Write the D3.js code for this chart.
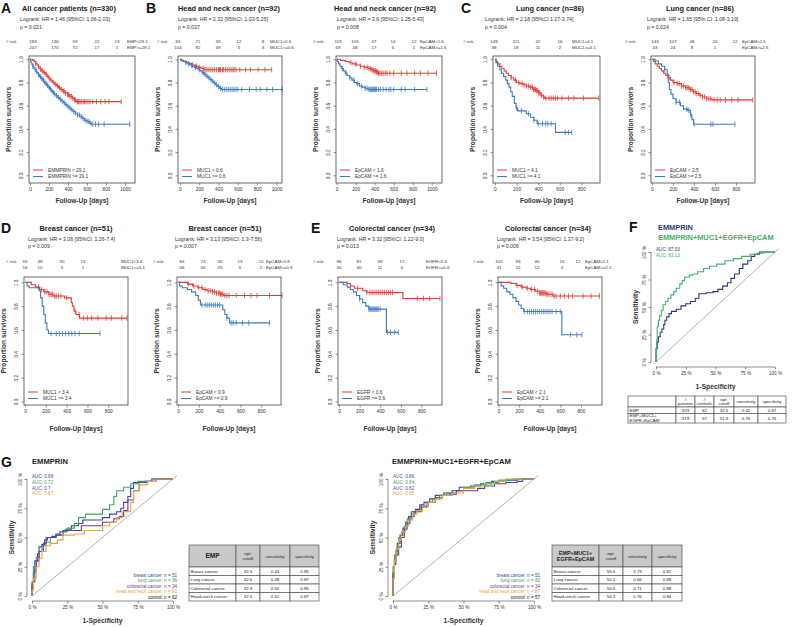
<!DOCTYPE html>
<html><head><meta charset="utf-8">
<script src="https://cdn.jsdelivr.net/npm/d3@7"></script>
<style>body{margin:0;background:#fff}svg{display:block}text{font-family:"Liberation Sans",Arial,Helvetica,sans-serif}</style>
</head><body><svg id="c" width="800" height="627"></svg>
<script>
// ---------------- DATA ----------------
const ticks1000 = [0,200,400,600,800,1000];
const ticks800 = [0,200,400,600,800];
const survTicks = [0,0.2,0.4,0.6,0.8,1.0];
const pctTicks = [0,0.25,0.5,0.75,1];
const pctLabels = ["0 %","25 %","50 %","75 %","100 %"];

// A: all cancer patients, EMMPRIN
const kmA_low = [[0,1],[30,0.99],[45,0.98],[60,0.965],[75,0.95],[90,0.935],[105,0.915],[120,0.9],[140,0.885],[160,0.87],[180,0.85],[200,0.83],[220,0.815],[240,0.8],[260,0.785],[280,0.77],[300,0.755],[320,0.74],[345,0.725],[370,0.71],[395,0.695],[420,0.68],[445,0.665],[465,0.65],[485,0.635],[960,0.635]];
const kmA_lowCens = [60,90,110,130,150,170,190,210,230,250,270,290,310,330,350,360,375,395,405,420,435,450,470,480,500,510,525,540,560,575,590,610,630,660,700,745,790,830,960];
const kmA_high = [[0,1],[5,0.985],[12,0.97],[20,0.955],[30,0.94],[40,0.925],[52,0.91],[64,0.895],[76,0.88],[88,0.865],[100,0.85],[115,0.835],[130,0.82],[145,0.805],[160,0.79],[175,0.775],[190,0.76],[205,0.745],[220,0.73],[238,0.715],[256,0.70],[274,0.685],[292,0.67],[310,0.655],[330,0.64],[350,0.625],[370,0.61],[390,0.595],[410,0.58],[430,0.565],[452,0.55],[475,0.535],[500,0.52],[525,0.505],[550,0.49],[575,0.475],[600,0.465],[625,0.45],[645,0.44],[1050,0.44]];
const kmA_highCens = [30,55,70,90,110,125,140,155,170,185,200,215,230,245,260,280,300,320,340,360,380,400,420,440,460,480,500,520,540,560,580,600,620,640,660,690,720,780,1050];
const riskA = [[183,136,59,22,13],[247,170,72,17,1]];
const riskTagsA = ["EMP<29.1","EMP>=29.1"];
const legendA = ["EMMPRIN < 29.1","EMMPRIN >= 29.1"];

// B1: head and neck, MUC1
const kmB1_low = [[0,1],[15,0.99],[40,0.98],[70,0.97],[100,0.96],[130,0.95],[160,0.94],[190,0.93],[220,0.92],[250,0.91],[950,0.91]];
const kmB1_lowCens = [130,170,200,240,260,280,300,320,340,360,380,400,410,420,440,450,470,490,510,530,550,560,580,620,680,730,810,880,950];
const kmB1_high = [[0,1],[10,0.99],[30,0.98],[55,0.97],[80,0.96],[105,0.95],[130,0.94],[150,0.93],[170,0.92],[190,0.91],[210,0.9],[230,0.885],[250,0.87],[270,0.855],[290,0.84],[310,0.825],[330,0.81],[350,0.795],[370,0.78],[390,0.765],[410,0.75],[430,0.74],[1060,0.74]];
const kmB1_highCens = [60,90,120,160,200,240,260,280,300,320,340,360,380,400,420,440,460,480,500,520,540,560,580,600,640,720,790,830,900,960,1060];
const riskB1 = [[84,71,33,12,8],[104,82,39,5,3]];
const riskTagsB1 = ["MUC1<0.6","MUC1>=0.6"];
const legendB1 = ["MUC1 < 0.6","MUC1 >= 0.6"];

// B2: head and neck, EpCAM
const kmB2_low = [[0,1],[40,0.99],[90,0.98],[130,0.97],[170,0.96],[210,0.95],[250,0.94],[290,0.93],[330,0.92],[360,0.91],[390,0.9],[420,0.89],[440,0.88],[1050,0.88]];
const kmB2_lowCens = [150,200,250,290,320,340,355,370,380,390,400,410,420,430,440,455,470,490,510,530,560,600,680,740,820,880,960,1050];
const kmB2_high = [[0,1],[8,0.98],[20,0.96],[35,0.94],[50,0.92],[70,0.9],[90,0.88],[110,0.86],[135,0.84],[160,0.82],[185,0.8],[210,0.79],[240,0.77],[270,0.76],[300,0.75],[330,0.74],[950,0.74]];
const kmB2_highCens = [60,100,140,180,220,260,300,320,340,350,360,370,380,390,400,410,420,440,460,490,520,550,570,600,680,720,820,950];
const riskB2 = [[119,105,47,14,12],[69,48,17,6,1]];
const riskTagsB2 = ["EpCAM<1.6","EpCAM>=1.6"];
const legendB2 = ["EpCAM < 1.6","EpCAM >= 1.6"];

// C1: lung, MUC1
const kmC1_low = [[0,1],[10,0.98],[25,0.96],[45,0.94],[65,0.92],[85,0.9],[105,0.88],[125,0.86],[150,0.84],[175,0.82],[200,0.8],[230,0.79],[260,0.78],[290,0.77],[320,0.76],[350,0.74],[380,0.73],[405,0.71],[425,0.69],[445,0.675],[460,0.665],[960,0.665]];
const kmC1_lowCens = [150,190,220,250,270,290,310,330,345,355,365,375,385,395,405,415,430,450,470,500,520,540,560,580,620,680,730,820,960];
const kmC1_high = [[0,1],[10,0.97],[25,0.94],[45,0.91],[60,0.88],[80,0.85],[100,0.82],[115,0.79],[130,0.76],[145,0.72],[160,0.68],[180,0.62],[195,0.58],[210,0.555],[290,0.53],[330,0.5],[360,0.475],[390,0.445],[560,0.37],[710,0.37]];
const kmC1_highCens = [200,245,310,360,400,440,470,490,520,650,680,710];
const riskC1 = [[149,111,42,16],[38,18,11,2]];
const riskTagsC1 = ["MUC1<4.1","MUC1>=4.1"];
const legendC1 = ["MUC1 < 4.1","MUC1 >= 4.1"];

// C2: lung, EpCAM
const kmC2_low = [[0,1],[15,0.98],[30,0.96],[50,0.94],[70,0.92],[90,0.9],[110,0.88],[130,0.86],[150,0.84],[175,0.82],[200,0.8],[240,0.79],[280,0.77],[320,0.755],[360,0.74],[390,0.72],[420,0.705],[450,0.69],[480,0.675],[520,0.66],[570,0.65],[960,0.65]];
const kmC2_lowCens = [170,210,240,260,280,300,320,335,350,365,380,395,410,420,440,460,480,500,520,540,560,590,620,650,700,760,820,960];
const kmC2_high = [[0,1],[30,0.985],[60,0.96],[90,0.94],[120,0.91],[145,0.87],[155,0.8],[165,0.74],[180,0.7],[200,0.66],[230,0.63],[270,0.6],[300,0.57],[340,0.56],[365,0.52],[380,0.48],[395,0.44],[790,0.44]];
const kmC2_highCens = [120,230,260,330,350,370,400,560,580,790];
const riskC2 = [[143,107,48,20,12],[43,24,8,1]];
const riskTagsC2 = ["EpCAM<2.5","EpCAM>=2.5"];
const legendC2 = ["EpCAM < 2.5","EpCAM >= 2.5"];

// D1: breast, MUC1
const kmD1_low = [[0,1],[60,0.98],[100,0.96],[140,0.94],[180,0.92],[230,0.9],[270,0.885],[380,0.87],[445,0.83],[455,0.8],[470,0.76],[490,0.73],[525,0.70],[980,0.70]];
const kmD1_lowCens = [130,160,190,210,230,250,265,285,300,320,345,400,480,520,560,600,640,700,780,830,930,980];
const kmD1_high = [[0,1],[20,0.97],[40,0.955],[135,0.93],[150,0.87],[165,0.8],[180,0.73],[195,0.66],[210,0.6],[225,0.57],[720,0.57]];
const kmD1_highCens = [250,300,330,360,390,420,450,480,520,720];
const riskD1 = [[55,48,30,15],[16,10,5,1]];
const riskTagsD1 = ["MUC1<3.4","MUC1>=3.4"];
const legendD1 = ["MUC1 < 3.4","MUC1 >= 3.4"];

// D2: breast, EpCAM
const kmD2_low = [[0,1],[90,0.985],[140,0.97],[190,0.955],[240,0.94],[280,0.93],[330,0.92],[370,0.91],[410,0.9],[440,0.89],[1000,0.89]];
const kmD2_lowCens = [100,150,200,230,260,290,310,330,350,370,390,400,410,420,430,450,470,490,560,640,700,760,880,1000];
const kmD2_high = [[0,1],[15,0.97],[40,0.955],[90,0.94],[130,0.92],[170,0.89],[195,0.85],[215,0.81],[430,0.77],[450,0.73],[470,0.7],[495,0.66],[880,0.66]];
const kmD2_highCens = [230,260,280,300,320,340,360,380,400,470,510,530,560,620,680,880];
const riskD2 = [[84,74,35,13,10],[66,56,25,6,2]];
const riskTagsD2 = ["EpCAM<0.9","EpCAM>=0.9"];
const legendD2 = ["EpCAM < 0.9","EpCAM >= 0.9"];

// E1: colorectal, EGFR
const kmE1_low = [[0,1],[80,0.99],[110,0.97],[150,0.95],[230,0.93],[270,0.915],[620,0.865],[980,0.865]];
const kmE1_lowCens = [180,270,300,320,340,360,380,400,420,440,460,480,500,520,760,820,880,980];
const kmE1_high = [[0,1],[40,0.98],[80,0.96],[110,0.94],[140,0.92],[170,0.89],[200,0.86],[230,0.83],[260,0.8],[290,0.775],[460,0.58],[575,0.58]];
const kmE1_highCens = [200,290,300,310,320,330,340,350,360,370,380,400,470,500,540,575];
const riskE1 = [[96,81,39,17],[40,30,11,6]];
const riskTagsE1 = ["EGFR<0.6","EGFR>=0.6"];
const legendE1 = ["EGFR < 0.6","EGFR >= 0.6"];

// E2: colorectal, EpCAM
const kmE2_low = [[0,1],[120,0.99],[170,0.975],[220,0.96],[270,0.95],[310,0.94],[360,0.925],[400,0.91],[470,0.9],[530,0.885],[980,0.885]];
const kmE2_lowCens = [180,230,280,320,350,380,400,410,420,430,440,450,460,470,480,500,520,540,560,600,640,680,720,820,900,980];
const kmE2_high = [[0,1],[25,0.97],[50,0.95],[80,0.92],[110,0.9],[140,0.87],[170,0.84],[195,0.81],[220,0.78],[245,0.755],[615,0.56],[810,0.56]];
const kmE2_highCens = [250,280,300,320,340,360,380,400,420,440,460,480,500,520,560,600,700,760,810];
const riskE2 = [[102,93,40,16,12],[31,22,12,4]];
const riskTagsE2 = ["EpCAM<2.1","EpCAM>=2.1"];
const legendE2 = ["EpCAM < 2.1","EpCAM >= 2.1"];

// F: ROC EMMPRIN vs combination
const rocF_emp = [[0,0],[0,0.12],[0.01,0.18],[0.02,0.23],[0.035,0.27],[0.05,0.3],[0.065,0.34],[0.075,0.38],[0.09,0.41],[0.11,0.44],[0.13,0.46],[0.17,0.48],[0.21,0.51],[0.25,0.53],[0.29,0.55],[0.33,0.58],[0.36,0.62],[0.42,0.63],[0.48,0.64],[0.52,0.66],[0.56,0.69],[0.6,0.72],[0.63,0.76],[0.66,0.8],[0.7,0.85],[0.73,0.89],[0.77,0.92],[0.8,0.96],[0.83,0.98],[0.87,1],[1,1]];
const rocF_comb = [[0,0],[0,0.06],[0.005,0.2],[0.01,0.32],[0.02,0.38],[0.03,0.42],[0.045,0.47],[0.06,0.52],[0.08,0.55],[0.1,0.58],[0.125,0.61],[0.15,0.64],[0.17,0.67],[0.2,0.71],[0.22,0.74],[0.24,0.77],[0.28,0.79],[0.31,0.8],[0.35,0.82],[0.4,0.85],[0.45,0.87],[0.51,0.89],[0.58,0.92],[0.65,0.94],[0.72,0.96],[0.79,0.98],[0.85,0.99],[0.9,1],[1,1]];
const aucF = ["AUC: 67.03","AUC: 83.13"];
const tableFHeader = ["","#\npatients","#\ncontrols","opt.\ncutoff","sensitivity","specificity"];
const tableFRows = [["EMP","329","62","32.5","0.42","0.87"],["EMP+MUC1+\nEGFR+EpCAM","319","57","51.9","0.76","0.75"]];

// G: ROC per cancer type
const rocG1_breast = [[0,0],[0,0.08],[0.01,0.2],[0.02,0.3],[0.04,0.36],[0.05,0.42],[0.07,0.44],[0.09,0.48],[0.11,0.5],[0.14,0.51],[0.17,0.53],[0.2,0.55],[0.24,0.57],[0.28,0.6],[0.33,0.62],[0.36,0.65],[0.45,0.65],[0.5,0.67],[0.55,0.7],[0.6,0.72],[0.63,0.75],[0.65,0.8],[0.68,0.85],[0.7,0.92],[0.72,0.97],[0.8,0.98],[0.85,1],[1,1]];
const rocG1_lung = [[0,0],[0,0.1],[0.01,0.25],[0.03,0.33],[0.05,0.38],[0.07,0.43],[0.1,0.46],[0.13,0.5],[0.17,0.52],[0.2,0.55],[0.25,0.58],[0.3,0.62],[0.33,0.67],[0.38,0.7],[0.45,0.7],[0.5,0.74],[0.55,0.78],[0.58,0.85],[0.6,0.9],[0.65,0.93],[0.7,0.96],[0.75,0.98],[0.85,1],[1,1]];
const rocG1_colo = [[0,0],[0,0.12],[0.02,0.22],[0.03,0.3],[0.05,0.38],[0.08,0.45],[0.1,0.5],[0.13,0.5],[0.17,0.52],[0.22,0.56],[0.3,0.56],[0.35,0.6],[0.45,0.6],[0.5,0.63],[0.58,0.66],[0.62,0.68],[0.65,0.73],[0.68,0.82],[0.72,0.9],[0.76,0.97],[0.82,0.98],[0.88,1],[1,1]];
const rocG1_hn = [[0,0],[0,0.05],[0.01,0.15],[0.03,0.25],[0.05,0.32],[0.07,0.38],[0.1,0.43],[0.13,0.45],[0.18,0.48],[0.22,0.52],[0.3,0.53],[0.37,0.56],[0.47,0.56],[0.5,0.6],[0.55,0.63],[0.6,0.67],[0.64,0.72],[0.7,0.8],[0.72,0.9],[0.76,0.95],[0.82,0.98],[0.88,1],[1,1]];
const aucG1 = ["AUC: 0.68","AUC: 0.72","AUC: 0.7","AUC: 0.67"];
const legendG1 = ["breast cancer: n = 51","lung cancer: n = 86","colorectal cancer: n = 34","head and neck cancer: n = 92","control: n = 62"];
const tableG1Header = ["EMP","opt.\ncutoff","sensitivity","specificity"];
const tableG1Rows = [["Breast cancer","32.5","0.43","0.85"],["Lung cancer","32.6","0.48","0.87"],["Colorectal cancer","32.9","0.50","0.85"],["Head+neck cancer","32.5","0.41","0.87"]];

const rocG2_breast = [[0,0],[0,0.2],[0.01,0.3],[0.02,0.38],[0.03,0.45],[0.05,0.52],[0.07,0.58],[0.09,0.63],[0.11,0.68],[0.13,0.72],[0.16,0.74],[0.19,0.78],[0.22,0.8],[0.26,0.83],[0.3,0.86],[0.36,0.88],[0.42,0.9],[0.47,0.93],[0.55,0.94],[0.62,0.96],[0.7,0.98],[0.8,0.99],[0.88,1],[1,1]];
const rocG2_lung = [[0,0],[0,0.25],[0.01,0.35],[0.03,0.42],[0.04,0.5],[0.06,0.55],[0.08,0.6],[0.1,0.66],[0.13,0.7],[0.16,0.73],[0.2,0.76],[0.24,0.8],[0.28,0.83],[0.33,0.86],[0.38,0.88],[0.45,0.9],[0.5,0.93],[0.58,0.95],[0.66,0.97],[0.75,0.99],[0.85,1],[1,1]];
const rocG2_colo = [[0,0],[0,0.18],[0.01,0.27],[0.02,0.35],[0.04,0.42],[0.06,0.5],[0.08,0.57],[0.1,0.62],[0.12,0.68],[0.15,0.72],[0.2,0.77],[0.25,0.8],[0.3,0.84],[0.35,0.86],[0.4,0.87],[0.45,0.9],[0.52,0.9],[0.6,0.92],[0.65,0.94],[0.72,0.96],[0.8,0.97],[0.88,0.98],[0.92,1],[1,1]];
const rocG2_hn = [[0,0],[0,0.15],[0.01,0.3],[0.02,0.4],[0.04,0.48],[0.06,0.55],[0.09,0.6],[0.11,0.65],[0.14,0.7],[0.17,0.73],[0.21,0.77],[0.25,0.8],[0.3,0.83],[0.35,0.86],[0.42,0.88],[0.5,0.92],[0.58,0.94],[0.65,0.96],[0.72,0.98],[0.8,1],[1,1]];
const aucG2 = ["AUC: 0.86","AUC: 0.84","AUC: 0.82","AUC: 0.85"];
const legendG2 = ["breast cancer: n = 51","lung cancer: n = 82","colorectal cancer: n = 34","head and neck cancer: n = 87","control: n = 57"];
const tableG2Header = ["EMP+MUC1+\nEGFR+EpCAM","opt.\ncutoff","sensitivity","specificity"];
const tableG2Rows = [["Breast cancer","55.0","0.73","0.82"],["Lung cancer","52.2","0.66","0.88"],["Colorectal cancer","56.6","0.71","0.88"],["Head+neck cancer","54.3","0.76","0.84"]];

// ---------------- DRAWING ----------------
const svg = d3.select('#c');
const RED = '#e63b33', BLUE = '#3a7abf';
const C_BREAST = '#2f4a9c', C_LUNG = '#3aa468', C_COLO = '#6a3b98', C_HN = '#e5a53a';
const FF = '"Liberation Sans",Arial,sans-serif';

function txt(g, x, y, s, o = {}) {
  const t = g.append('text').attr('x', x).attr('y', y).text(s)
    .attr('font-size', o.size || 5).attr('fill', o.fill || '#222')
    .attr('font-weight', o.bold ? 'bold' : 'normal')
    .attr('text-anchor', o.anchor || 'start');
  if (o.rot) t.attr('transform', `rotate(-90,${x},${y})`);
  return t;
}
function survAt(steps, t) { let s = 1; for (const d of steps) { if (d[0] <= t) s = d[1]; else break; } return s; }

function kmPanel(p) {
  const g = svg.append('g');
  const [bx0, by0, bx1, by1] = p.box;
  const x = d3.scaleLinear().domain([p.x0day, p.x1day]).range([bx0, bx1]);
  const y = d3.scaleLinear().domain([p.ylo, p.yhi]).range([by1, by0]);
  const line = d3.line().x(d => x(d[0])).y(d => y(d[1])).curve(d3.curveStepAfter);
  p.curves.forEach(c => {
    g.append('path').datum(c.steps).attr('d', line).attr('fill', 'none')
      .attr('stroke', c.color).attr('stroke-width', 1.1);
    g.selectAll(null).data(c.cens).enter().append('line')
      .attr('x1', d => x(d)).attr('x2', d => x(d))
      .attr('y1', d => y(survAt(c.steps, d)) - 2.7).attr('y2', d => y(survAt(c.steps, d)) + 2.7)
      .attr('stroke', c.color).attr('stroke-width', 0.8);
  });
  g.append('rect').attr('x', bx0).attr('y', by0).attr('width', bx1 - bx0).attr('height', by1 - by0)
    .attr('fill', 'none').attr('stroke', '#444').attr('stroke-width', 0.8);
  const xa = g.append('g').attr('transform', `translate(0,${by1})`)
    .call(d3.axisBottom(x).tickValues(p.ticks).tickSize(2.5).tickPadding(2).tickFormat(d3.format('d')));
  xa.select('.domain').remove();
  xa.selectAll('line').attr('stroke', '#444').attr('stroke-width', 0.6);
  xa.selectAll('text').attr('font-size', 4.8).attr('fill', '#333').attr('font-family', FF);
  const ya = g.append('g').attr('transform', `translate(${bx0},0)`)
    .call(d3.axisLeft(y).tickValues(survTicks).tickSize(2.5).tickFormat(d3.format('.1f')));
  ya.select('.domain').remove();
  ya.selectAll('line').attr('stroke', '#444').attr('stroke-width', 0.6);
  ya.selectAll('text').attr('font-size', 4.8).attr('fill', '#333').attr('font-family', FF)
    .attr('x', 0).attr('y', 0).attr('dy', 0).attr('text-anchor', 'middle')
    .attr('transform', 'translate(-6,0) rotate(-90)');
  txt(g, (bx0 + bx1) / 2, p.xlabY, 'Follow-Up [days]', { size: 6.6, bold: true, anchor: 'middle', fill: '#333' });
  txt(g, bx0 - 18, (by0 + by1) / 2, 'Proportion survivors', { size: 6.6, bold: true, anchor: 'middle', rot: true, fill: '#333' });
  p.curves.forEach((c, i) => {
    const ly = by1 - 13 + i * 6.5;
    g.append('line').attr('x1', bx0 + 4).attr('x2', bx0 + 14).attr('y1', ly).attr('y2', ly).attr('stroke', c.color).attr('stroke-width', 1);
    txt(g, bx0 + 19, ly + 1.7, p.legend[i], { size: 4.8, fill: '#333' });
  });
  if (p.letter) txt(g, p.letterX, p.letterY, p.letter, { size: 14, bold: true, fill: '#111' });
  txt(g, p.titleX, p.titleY, p.title, { size: 7.4, bold: true, anchor: p.titleAnchor || 'middle', fill: '#222' });
  txt(g, p.lrX, p.lrY, p.lr1, { size: 5.2, fill: '#333' });
  txt(g, p.lrX, p.lrY + 7.5, p.lr2, { size: 5.2, fill: '#333' });
  txt(g, p.riskLabelX, p.riskY, '# risk', { size: 4.4, fill: '#333' });
  p.risk.forEach((row, r) => {
    row.forEach((v, i) => txt(g, p.riskXs[i], p.riskY + r * 6.5, String(v), { size: 4.4, anchor: 'middle', fill: '#333' }));
    txt(g, p.tagX, p.riskY + r * 6.5, p.tags[r], { size: 4.4, fill: '#333' });
  });
}

function mk(steps, cens, color) { return { steps, cens, color }; }

const R1 = { ylo: -0.066, yhi: 1.028, titleY: 11, lrY: 21, riskY: 42.5, xlabY: 202.5 };
const R2 = { ylo: -0.03, yhi: 1.045, titleY: 231, lrY: 240.5, riskY: 262.5, xlabY: 430.5 };

kmPanel(Object.assign({}, R1, { box: [29, 56, 135, 183], x0day: -10.5, x1day: 1105, ticks: ticks1000,
  curves: [mk(kmA_low, kmA_lowCens, RED), mk(kmA_high, kmA_highCens, BLUE)], legend: legendA,
  letter: 'A', letterX: 1, letterY: 13, title: 'All cancer patients  (n=330)', titleX: 22, titleAnchor: 'start',
  lrX: 20, lr1: 'Logrank: HR = 1.46 [95%CI: 1.06-2.03]', lr2: 'p = 0.021',
  riskLabelX: 6, riskXs: [33, 55, 75, 97, 117], tagX: 127, risk: riskA, tags: riskTagsA }));

kmPanel(Object.assign({}, R1, { box: [178, 56, 282, 183], x0day: -20, x1day: 1057, ticks: ticks1000,
  curves: [mk(kmB1_low, kmB1_lowCens, RED), mk(kmB1_high, kmB1_highCens, BLUE)], legend: legendB1,
  letter: 'B', letterX: 146, letterY: 13, title: 'Head and neck cancer  (n=92)', titleX: 229,
  lrX: 178, lr1: 'Logrank: HR = 2.32 [95%CI: 1.03-5.25]', lr2: 'p = 0.037',
  riskLabelX: 157, riskXs: [178, 198, 218, 239, 263], tagX: 270, risk: riskB1, tags: riskTagsB1 }));

kmPanel(Object.assign({}, R1, { box: [336, 56, 442, 183], x0day: -7, x1day: 1108, ticks: ticks1000,
  curves: [mk(kmB2_low, kmB2_lowCens, RED), mk(kmB2_high, kmB2_highCens, BLUE)], legend: legendB2,
  title: 'Head and neck cancer (n=92)', titleX: 385,
  lrX: 337, lr1: 'Logrank: HR = 2.6 [95%CI: 1.25-5.43]', lr2: 'p = 0.008',
  riskLabelX: 313, riskXs: [338, 355, 374, 393, 414], tagX: 420, risk: riskB2, tags: riskTagsB2 }));

kmPanel(Object.assign({}, R1, { box: [493, 56, 600, 183], x0day: -18, x1day: 972, ticks: ticks800,
  curves: [mk(kmC1_low, kmC1_lowCens, RED), mk(kmC1_high, kmC1_highCens, BLUE)], legend: legendC1,
  letter: 'C', letterX: 461, letterY: 13, title: 'Lung cancer (n=86)', titleX: 550,
  lrX: 485, lr1: 'Logrank: HR = 2.18 [95%CI:1.27-3.74]', lr2: 'p = 0.004',
  riskLabelX: 463, riskXs: [494, 516, 538, 560], tagX: 572, risk: riskC1, tags: riskTagsC1 }));

kmPanel(Object.assign({}, R1, { box: [651, 56, 755, 183], x0day: -10, x1day: 981, ticks: ticks800,
  curves: [mk(kmC2_low, kmC2_lowCens, RED), mk(kmC2_high, kmC2_highCens, BLUE)], legend: legendC2,
  title: 'Lung cancer  (n=86)', titleX: 700,
  lrX: 647, lr1: 'Logrank: HR = 1.65 [95% CI: 1.08-3.19]', lr2: 'p = 0.024',
  riskLabelX: 625, riskXs: [655, 673, 692, 715, 735], tagX: 742, risk: riskC2, tags: riskTagsC2 }));

kmPanel(Object.assign({}, R2, { box: [24, 277, 128, 405], x0day: -10, x1day: 990, ticks: ticks800,
  curves: [mk(kmD1_low, kmD1_lowCens, RED), mk(kmD1_high, kmD1_highCens, BLUE)], legend: legendD1,
  letter: 'D', letterX: 1, letterY: 233, title: 'Breast cancer  (n=51)', titleX: 76,
  lrX: 28, lr1: 'Logrank: HR = 3.06 [95%CI: 1.26-7.4]', lr2: 'p = 0.009',
  riskLabelX: 6, riskXs: [25, 40, 62, 83], tagX: 121, risk: riskD1, tags: riskTagsD1 }));

kmPanel(Object.assign({}, R2, { box: [177, 277, 281, 405], x0day: -10, x1day: 990, ticks: ticks800,
  curves: [mk(kmD2_low, kmD2_lowCens, RED), mk(kmD2_high, kmD2_highCens, BLUE)], legend: legendD2,
  title: 'Breast cancer (n=51)', titleX: 225,
  lrX: 175, lr1: 'Logrank: HR = 3.13 [95%CI: 1.3-7.56]', lr2: 'p = 0.007',
  riskLabelX: 153, riskXs: [182, 203, 220, 240, 261], tagX: 266, risk: riskD2, tags: riskTagsD2 }));

kmPanel(Object.assign({}, R2, { box: [338, 277, 442, 405], x0day: -10, x1day: 1000, ticks: ticks800,
  curves: [mk(kmE1_low, kmE1_lowCens, RED), mk(kmE1_high, kmE1_highCens, BLUE)], legend: legendE1,
  letter: 'E', letterX: 311, letterY: 233, title: 'Colorectal cancer  (n=34)', titleX: 392,
  lrX: 337, lr1: 'Logrank: HR = 3.32 [95%CI: 1.22-9.0]', lr2: 'p = 0.013',
  riskLabelX: 313, riskXs: [339, 359, 380, 402], tagX: 426, risk: riskE1, tags: riskTagsE1 }));

kmPanel(Object.assign({}, R2, { box: [498, 277, 602, 405], x0day: -5, x1day: 1005, ticks: ticks800,
  curves: [mk(kmE2_low, kmE2_lowCens, RED), mk(kmE2_high, kmE2_highCens, BLUE)], legend: legendE2,
  title: 'Colorectal cancer (n=34)', titleX: 548,
  lrX: 497, lr1: 'Logrank: HR = 3.54 [95%CI: 1.37-9.2]', lr2: 'p = 0.006',
  riskLabelX: 473, riskXs: [499, 518, 537, 562, 578], tagX: 585, risk: riskE2, tags: riskTagsE2 }));

// ---------- ROC panels ----------
function rocPanel(p) {
  const g = svg.append('g');
  const x = d3.scaleLinear().domain([0, 1]).range([p.x0, p.x1]);
  const y = d3.scaleLinear().domain([0, 1]).range([p.y0, p.y1]);
  g.append('line').attr('x1', x(0)).attr('y1', y(0)).attr('x2', x(1.03)).attr('y2', y(1.03))
    .attr('stroke', '#aaa').attr('stroke-width', 0.9);
  const line = d3.line().x(d => x(d[0])).y(d => y(d[1])).curve(d3.curveStepAfter);
  p.curves.forEach(c => g.append('path').datum(c.data).attr('d', line).attr('fill', 'none')
    .attr('stroke', c.color).attr('stroke-width', p.lw || 1.1));
  const xa = g.append('g').attr('transform', `translate(0,${p.y0 + p.off})`)
    .call(d3.axisBottom(x).tickValues(pctTicks).tickSize(2.5).tickPadding(2).tickFormat((d, i) => pctLabels[i]));
  xa.select('.domain').attr('stroke', '#444').attr('stroke-width', 0.6).attr('d', `M${x(0)},0H${x(1)}`);
  xa.selectAll('line').attr('stroke', '#444').attr('stroke-width', 0.6);
  xa.selectAll('text').attr('font-size', 4.6).attr('fill', '#333').attr('font-family', FF);
  const ya = g.append('g').attr('transform', `translate(${p.x0 - p.off},0)`)
    .call(d3.axisLeft(y).tickValues(pctTicks).tickSize(2.5).tickFormat((d, i) => pctLabels[i]));
  ya.select('.domain').attr('stroke', '#444').attr('stroke-width', 0.6).attr('d', `M0,${y(0)}V${y(1)}`);
  ya.selectAll('line').attr('stroke', '#444').attr('stroke-width', 0.6);
  ya.selectAll('text').attr('font-size', 4.6).attr('fill', '#333').attr('font-family', FF)
    .attr('x', 0).attr('y', 0).attr('dy', 0).attr('text-anchor', 'middle')
    .attr('transform', 'translate(-5,0) rotate(-90)');
  txt(g, (p.x0 + p.x1) / 2, p.y0 + p.off + 22, '1-Specificity', { size: 6.8, bold: true, anchor: 'middle', fill: '#333' });
  txt(g, p.x0 - p.off - 13, (p.y0 + p.y1) / 2, 'Sensitivity', { size: 6.8, bold: true, anchor: 'middle', rot: true, fill: '#333' });
  p.auc.forEach((a, i) => txt(g, p.x0, p.y1 - 1 + i * 5.8, a, { size: 4.6, fill: p.curves[i].color }));
  return g;
}

const gF = rocPanel({ x0: 656, x1: 775, y0: 362, y1: 252, off: 5, lw: 1.1,
  curves: [{ data: rocF_emp, color: '#27397a' }, { data: rocF_comb, color: '#45b06c' }], auc: aucF });
txt(gF, 629, 232, 'F', { size: 14, bold: true, fill: '#111' });
txt(gF, 658, 230, 'EMMPRIN', { size: 7.4, bold: true, fill: '#27397a' });
txt(gF, 658, 239.5, 'EMMPRIN+MUC1+EGFR+EpCAM', { size: 7.4, bold: true, fill: '#45b06c' });

const gG1 = rocPanel({ x0: 32, x1: 173, y0: 596, y1: 479, off: 5,
  curves: [{ data: rocG1_breast, color: C_BREAST }, { data: rocG1_lung, color: C_LUNG }, { data: rocG1_colo, color: C_COLO }, { data: rocG1_hn, color: C_HN }], auc: aucG1 });
txt(gG1, 1, 467, 'G', { size: 14, bold: true, fill: '#111' });
txt(gG1, 32, 464, 'EMMPRIN', { size: 7.6, bold: true, fill: '#222' });
const gG2 = rocPanel({ x0: 393, x1: 534, y0: 596, y1: 479, off: 5,
  curves: [{ data: rocG2_breast, color: C_BREAST }, { data: rocG2_lung, color: C_LUNG }, { data: rocG2_colo, color: C_COLO }, { data: rocG2_hn, color: C_HN }], auc: aucG2 });
txt(gG2, 392, 464, 'EMMPRIN+MUC1+EGFR+EpCAM', { size: 7.6, bold: true, fill: '#222' });

const legCols = [C_BREAST, C_LUNG, C_COLO, C_HN, '#111'];
function rocLegend(g, xr, names) {
  names.forEach((n, i) => txt(g, xr, 576.5 + i * 5.5, n, { size: 4.6, anchor: 'end', fill: legCols[i] }));
}
rocLegend(gG1, 177, legendG1);
rocLegend(gG2, 540, legendG2);

function drawTable(cols, rows, header, body, o) {
  const g = svg.append('g');
  const nR = rows.length - 1;
  for (let r = 0; r < nR; r++) {
    for (let c = 0; c < cols.length - 1; c++) {
      const x0 = cols[c], x1 = cols[c + 1], y0 = rows[r], y1 = rows[r + 1];
      g.append('rect').attr('x', x0).attr('y', y0).attr('width', x1 - x0).attr('height', y1 - y0)
        .attr('fill', (r === 0 && o.grayHeader) ? '#c9c9c9' : '#fff').attr('stroke', '#555').attr('stroke-width', 0.7);
      const s = r === 0 ? header[c] : body[r - 1][c];
      if (!s) continue;
      const lines = s.split('\n');
      const isHeadFirst = r === 0 && c === 0;
      const size = isHeadFirst ? o.headFirstSize : (r === 0 ? o.headSize : o.bodySize);
      const lh = size * 1.05;
      const left = c === 0 && r > 0;
      const cx = left ? x0 + 1.5 : (x0 + x1) / 2;
      const cy = (y0 + y1) / 2 - (lines.length - 1) * lh / 2 + size * 0.35;
      lines.forEach((l, k) => txt(g, cx, cy + k * lh, l, { size, bold: isHeadFirst, anchor: left ? 'start' : 'middle', fill: '#222' }));
    }
  }
}
drawTable([628, 676, 695, 714, 734, 758, 786], [396, 407, 413.5, 423], tableFHeader, tableFRows,
  { grayHeader: false, headSize: 4.4, bodySize: 4.4, headFirstSize: 4.4 });
drawTable([189, 236, 260, 290, 319], [545, 567, 575.5, 584, 592.5, 601], tableG1Header, tableG1Rows,
  { grayHeader: true, headSize: 4.4, bodySize: 4.4, headFirstSize: 6.5 });
drawTable([552, 599, 623, 652, 682], [545, 567, 575.5, 584, 592.5, 601], tableG2Header, tableG2Rows,
  { grayHeader: true, headSize: 4.4, bodySize: 4.4, headFirstSize: 5.4 });
</script></body></html>
